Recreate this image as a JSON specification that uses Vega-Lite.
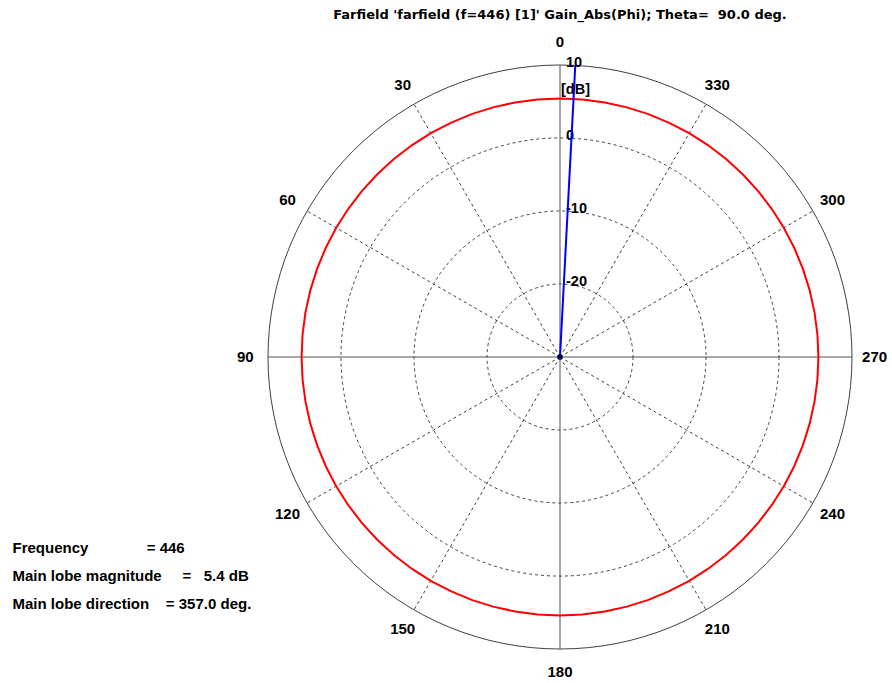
{
  "$schema": "https://vega.github.io/schema/vega-lite/v6.json",
  "width": 584,
  "height": 584,
  "autosize": "none",
  "padding": {"left": 268, "top": 65, "right": 40, "bottom": 34},
  "background": "white",
  "config": {"view": {"stroke": null}, "font": "Liberation Sans"},
  "title": {
    "text": "Farfield 'farfield (f=446) [1]' Gain_Abs(Phi); Theta=\u00a0 90.0 deg.",
    "anchor": "middle",
    "font": "DejaVu Sans",
    "fontSize": 13,
    "fontWeight": "bold",
    "color": "#000000",
    "offset": 13
  },
  "datasets": {
    "pattern": [
      {"phi": 0, "gain": 5.4}, {"phi": 5, "gain": 5.4}, {"phi": 10, "gain": 5.4}, {"phi": 15, "gain": 5.4},
      {"phi": 20, "gain": 5.4}, {"phi": 25, "gain": 5.4}, {"phi": 30, "gain": 5.4}, {"phi": 35, "gain": 5.4},
      {"phi": 40, "gain": 5.4}, {"phi": 45, "gain": 5.4}, {"phi": 50, "gain": 5.4}, {"phi": 55, "gain": 5.4},
      {"phi": 60, "gain": 5.4}, {"phi": 65, "gain": 5.4}, {"phi": 70, "gain": 5.4}, {"phi": 75, "gain": 5.4},
      {"phi": 80, "gain": 5.4}, {"phi": 85, "gain": 5.4}, {"phi": 90, "gain": 5.4}, {"phi": 95, "gain": 5.4},
      {"phi": 100, "gain": 5.4}, {"phi": 105, "gain": 5.4}, {"phi": 110, "gain": 5.4}, {"phi": 115, "gain": 5.4},
      {"phi": 120, "gain": 5.4}, {"phi": 125, "gain": 5.4}, {"phi": 130, "gain": 5.4}, {"phi": 135, "gain": 5.4},
      {"phi": 140, "gain": 5.4}, {"phi": 145, "gain": 5.4}, {"phi": 150, "gain": 5.4}, {"phi": 155, "gain": 5.4},
      {"phi": 160, "gain": 5.4}, {"phi": 165, "gain": 5.4}, {"phi": 170, "gain": 5.4}, {"phi": 175, "gain": 5.4},
      {"phi": 180, "gain": 5.4}, {"phi": 185, "gain": 5.4}, {"phi": 190, "gain": 5.4}, {"phi": 195, "gain": 5.4},
      {"phi": 200, "gain": 5.4}, {"phi": 205, "gain": 5.4}, {"phi": 210, "gain": 5.4}, {"phi": 215, "gain": 5.4},
      {"phi": 220, "gain": 5.4}, {"phi": 225, "gain": 5.4}, {"phi": 230, "gain": 5.4}, {"phi": 235, "gain": 5.4},
      {"phi": 240, "gain": 5.4}, {"phi": 245, "gain": 5.4}, {"phi": 250, "gain": 5.4}, {"phi": 255, "gain": 5.4},
      {"phi": 260, "gain": 5.4}, {"phi": 265, "gain": 5.4}, {"phi": 270, "gain": 5.4}, {"phi": 275, "gain": 5.4},
      {"phi": 280, "gain": 5.4}, {"phi": 285, "gain": 5.4}, {"phi": 290, "gain": 5.4}, {"phi": 295, "gain": 5.4},
      {"phi": 300, "gain": 5.4}, {"phi": 305, "gain": 5.4}, {"phi": 310, "gain": 5.4}, {"phi": 315, "gain": 5.4},
      {"phi": 320, "gain": 5.4}, {"phi": 325, "gain": 5.4}, {"phi": 330, "gain": 5.4}, {"phi": 335, "gain": 5.4},
      {"phi": 340, "gain": 5.4}, {"phi": 345, "gain": 5.4}, {"phi": 350, "gain": 5.4}, {"phi": 355, "gain": 5.4}
    ],
    "spokes": [
      {"phi": 0}, {"phi": 30}, {"phi": 60}, {"phi": 90}, {"phi": 120}, {"phi": 150},
      {"phi": 180}, {"phi": 210}, {"phi": 240}, {"phi": 270}, {"phi": 300}, {"phi": 330}
    ],
    "rings": [{"level": -20}, {"level": -10}, {"level": 0}, {"level": 10}],
    "lobe": [{"direction": 357, "magnitude": 5.4}],
    "info": [
      {"lines": [
        "Frequency\u00a0\u00a0\u00a0\u00a0\u00a0\u00a0\u00a0\u00a0\u00a0\u00a0\u00a0\u00a0\u00a0\u00a0= 446",
        "Main lobe magnitude\u00a0\u00a0\u00a0\u00a0\u00a0=\u00a0\u00a0\u00a05.4 dB",
        "Main lobe direction\u00a0\u00a0\u00a0\u00a0= 357.0 deg."
      ]}
    ]
  },
  "layer": [
    {
      "data": {"name": "rings"},
      "transform": [
        {"filter": "datum.level < 10"},
        {"calculate": "0", "as": "x0"},
        {"calculate": "datum.level + 30", "as": "r"}
      ],
      "mark": {"type": "point", "shape": "circle", "filled": false, "stroke": "#404040", "strokeWidth": 1, "strokeDash": [3, 3], "opacity": 1},
      "encoding": {
        "x": {"field": "x0", "type": "quantitative", "scale": {"domain": [-40, 40], "nice": false, "zero": false}, "axis": null},
        "y": {"field": "x0", "type": "quantitative", "scale": {"domain": [-40, 40], "nice": false, "zero": false}, "axis": null},
        "size": {"field": "r", "type": "quantitative", "scale": {"type": "pow", "exponent": 2, "domain": [0, 40], "range": [0, 341056], "zero": true}, "legend": null}
      }
    },
    {
      "data": {"name": "rings"},
      "transform": [
        {"filter": "datum.level == 10"},
        {"calculate": "0", "as": "x0"},
        {"calculate": "datum.level + 30", "as": "r"}
      ],
      "mark": {"type": "point", "shape": "circle", "filled": false, "stroke": "#404040", "strokeWidth": 1, "opacity": 1},
      "encoding": {
        "x": {"field": "x0", "type": "quantitative", "axis": null},
        "y": {"field": "x0", "type": "quantitative", "axis": null},
        "size": {"field": "r", "type": "quantitative", "legend": null}
      }
    },
    {
      "data": {"name": "spokes"},
      "transform": [
        {"filter": "datum.phi % 90 != 0"},
        {"calculate": "0", "as": "x0"},
        {"calculate": "-40 * sin(datum.phi * PI / 180)", "as": "xe"},
        {"calculate": "40 * cos(datum.phi * PI / 180)", "as": "ye"}
      ],
      "mark": {"type": "rule", "stroke": "#404040", "strokeWidth": 1, "strokeDash": [3, 3]},
      "encoding": {
        "x": {"field": "x0", "type": "quantitative", "axis": null},
        "y": {"field": "x0", "type": "quantitative", "axis": null},
        "x2": {"field": "xe"},
        "y2": {"field": "ye"}
      }
    },
    {
      "data": {"name": "spokes"},
      "transform": [
        {"filter": "datum.phi % 90 == 0"},
        {"calculate": "0", "as": "x0"},
        {"calculate": "-40 * sin(datum.phi * PI / 180)", "as": "xe"},
        {"calculate": "40 * cos(datum.phi * PI / 180)", "as": "ye"}
      ],
      "mark": {"type": "rule", "stroke": "#505050", "strokeWidth": 1},
      "encoding": {
        "x": {"field": "x0", "type": "quantitative", "axis": null},
        "y": {"field": "x0", "type": "quantitative", "axis": null},
        "x2": {"field": "xe"},
        "y2": {"field": "ye"}
      }
    },
    {
      "data": {"name": "pattern"},
      "transform": [
        {"calculate": "-(datum.gain + 30) * sin(datum.phi * PI / 180)", "as": "px"},
        {"calculate": "(datum.gain + 30) * cos(datum.phi * PI / 180)", "as": "py"}
      ],
      "mark": {"type": "line", "interpolate": "linear-closed", "stroke": "#ff0000", "strokeWidth": 2},
      "encoding": {
        "x": {"field": "px", "type": "quantitative", "axis": null},
        "y": {"field": "py", "type": "quantitative", "axis": null},
        "order": {"field": "phi", "type": "quantitative"}
      }
    },
    {
      "data": {"name": "spokes"},
      "transform": [
        {"calculate": "-43.1 * sin(datum.phi * PI / 180)", "as": "lx"},
        {"calculate": "43.1 * cos(datum.phi * PI / 180)", "as": "ly"}
      ],
      "mark": {"type": "text", "font": "Liberation Sans", "fontSize": 15, "fontWeight": "bold", "color": "#000000", "align": "center", "baseline": "middle"},
      "encoding": {
        "x": {"field": "lx", "type": "quantitative", "axis": null},
        "y": {"field": "ly", "type": "quantitative", "axis": null},
        "text": {"field": "phi", "type": "nominal"}
      }
    },
    {
      "data": {"name": "rings"},
      "transform": [
        {"calculate": "0", "as": "x0"},
        {"calculate": "datum.level + 30", "as": "r"}
      ],
      "mark": {"type": "text", "font": "Liberation Sans", "fontSize": 14.5, "fontWeight": "bold", "color": "#000000", "align": "left", "baseline": "middle", "dx": 6, "dy": -2},
      "encoding": {
        "x": {"field": "x0", "type": "quantitative", "axis": null},
        "y": {"field": "r", "type": "quantitative", "axis": null},
        "text": {"field": "level", "type": "nominal"}
      }
    },
    {
      "data": {"name": "rings"},
      "transform": [
        {"filter": "datum.level == 10"},
        {"calculate": "0", "as": "x0"},
        {"calculate": "datum.level + 30", "as": "r"}
      ],
      "mark": {"type": "text", "text": "[dB]", "font": "Liberation Sans", "fontSize": 14.5, "fontWeight": "bold", "color": "#000000", "align": "left", "baseline": "middle", "dx": 1, "dy": 25},
      "encoding": {
        "x": {"field": "x0", "type": "quantitative", "axis": null},
        "y": {"field": "r", "type": "quantitative", "axis": null}
      }
    },
    {
      "data": {"name": "lobe"},
      "transform": [
        {"calculate": "0", "as": "x0"},
        {"calculate": "-40 * sin(datum.direction * PI / 180)", "as": "xe"},
        {"calculate": "40 * cos(datum.direction * PI / 180)", "as": "ye"}
      ],
      "mark": {"type": "rule", "stroke": "#0000ff", "strokeWidth": 2},
      "encoding": {
        "x": {"field": "x0", "type": "quantitative", "axis": null},
        "y": {"field": "x0", "type": "quantitative", "axis": null},
        "x2": {"field": "xe"},
        "y2": {"field": "ye"}
      }
    },
    {
      "data": {"name": "lobe"},
      "transform": [{"calculate": "0", "as": "x0"}],
      "mark": {"type": "point", "filled": true, "color": "#000050", "size": 30, "opacity": 1},
      "encoding": {
        "x": {"field": "x0", "type": "quantitative", "axis": null},
        "y": {"field": "x0", "type": "quantitative", "axis": null}
      }
    },
    {
      "data": {"name": "info"},
      "mark": {"type": "text", "font": "Liberation Sans", "fontSize": 15, "fontWeight": "bold", "color": "#000000", "align": "left", "baseline": "middle", "lineHeight": 28},
      "encoding": {
        "x": {"datum": -75, "type": "quantitative", "axis": null},
        "y": {"datum": -26.2, "type": "quantitative", "axis": null},
        "text": {"field": "lines", "type": "nominal"}
      }
    }
  ]
}
